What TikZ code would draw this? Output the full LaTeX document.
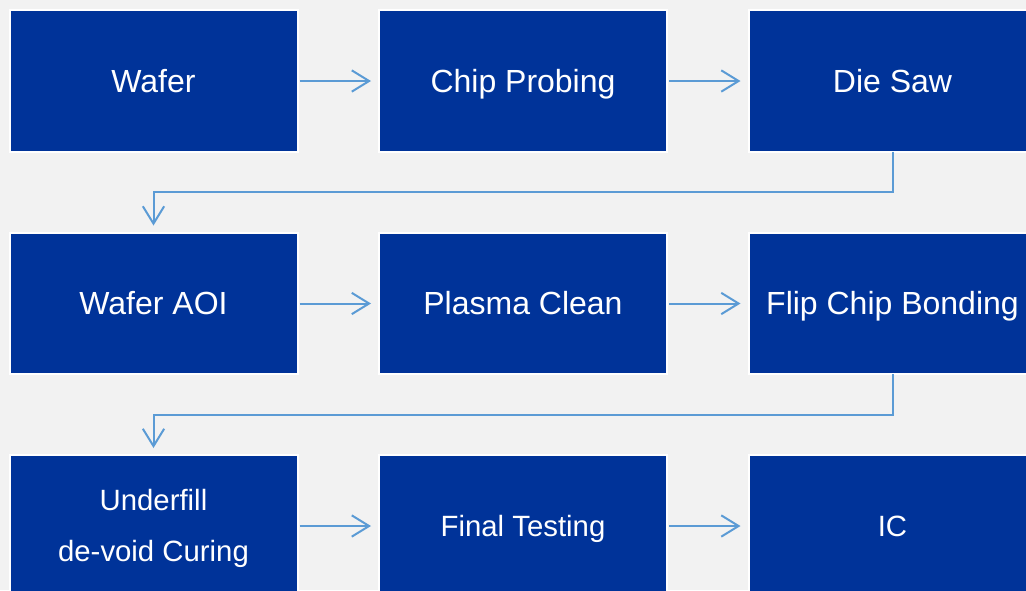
\documentclass[tikz,border=0pt]{standalone}
\usepackage{fontspec}
\setmainfont{Liberation Sans}
\usetikzlibrary{arrows.meta}
\definecolor{boxblue}{RGB}{0,51,153}
\definecolor{linkblue}{RGB}{91,155,213}
\definecolor{bggray}{RGB}{242,242,242}
\tikzset{
  stepbox/.style={fill=boxblue,draw=white,line width=1.5pt,minimum width=216pt,
    minimum height=106pt,inner sep=0pt,outer sep=0pt,text=white,align=center,
    text height=17pt,text depth=0.5pt,font=\fontsize{24}{37.5}\selectfont},
  smallstep/.style={stepbox,text height=15.8pt,font=\fontsize{22}{37.5}\selectfont},
  twoline/.style={stepbox,text height=,text depth=,font=\fontsize{22}{38.5}\selectfont},
  link/.style={draw=linkblue,line width=1.5pt,
    -{Straight Barb[length=13pt,width=16pt,line width=1.5pt]}}
}
\begin{document}
\begin{tikzpicture}[x=0.75pt,y=-0.75pt]
  \useasboundingbox (0,0) rectangle (1026,590);
  \clip (0,0) rectangle (1026,590);
  \fill[bggray] (0,0) rectangle (1026,590);
  \node[stepbox] (wafer)   at (153.5,81)    {Wafer};
  \node[stepbox] (probe)   at (523,81)      {Chip Probing};
  \node[stepbox] (saw)     at (892.5,81)    {Die Saw};
  \node[stepbox] (aoi)     at (153.5,303.5) {Wafer AOI};
  \node[stepbox] (plasma)  at (523,303.5)   {Plasma Clean};
  \node[stepbox] (flip)    at (892.5,303.5) {Flip Chip Bonding};
  \node[twoline] (underfill) at (153.5,526) {\rule{0pt}{20pt}Underfill\\de-void Curing};
  \node[smallstep] (final) at (523,526)     {Final Testing};
  \node[smallstep] (ic)    at (892.5,526)   {IC};
  \draw[link,shorten <=1.5pt,shorten >=6pt] (wafer) -- (probe);
  \draw[link,shorten <=1.5pt,shorten >=6pt] (probe) -- (saw);
  \draw[link,shorten <=1.5pt,shorten >=6pt] (aoi) -- (plasma);
  \draw[link,shorten <=1.5pt,shorten >=6pt] (plasma) -- (flip);
  \draw[link,shorten <=1.5pt,shorten >=6pt] (underfill) -- (final);
  \draw[link,shorten <=1.5pt,shorten >=6pt] (final) -- (ic);
  \draw[link,shorten >=5.5pt] (saw.south) -- ++(0pt,-30.5pt) -| (aoi.north);
  \draw[link,shorten >=5.5pt] (flip.south) -- ++(0pt,-30.5pt) -| (underfill.north);
\end{tikzpicture}
\end{document}
